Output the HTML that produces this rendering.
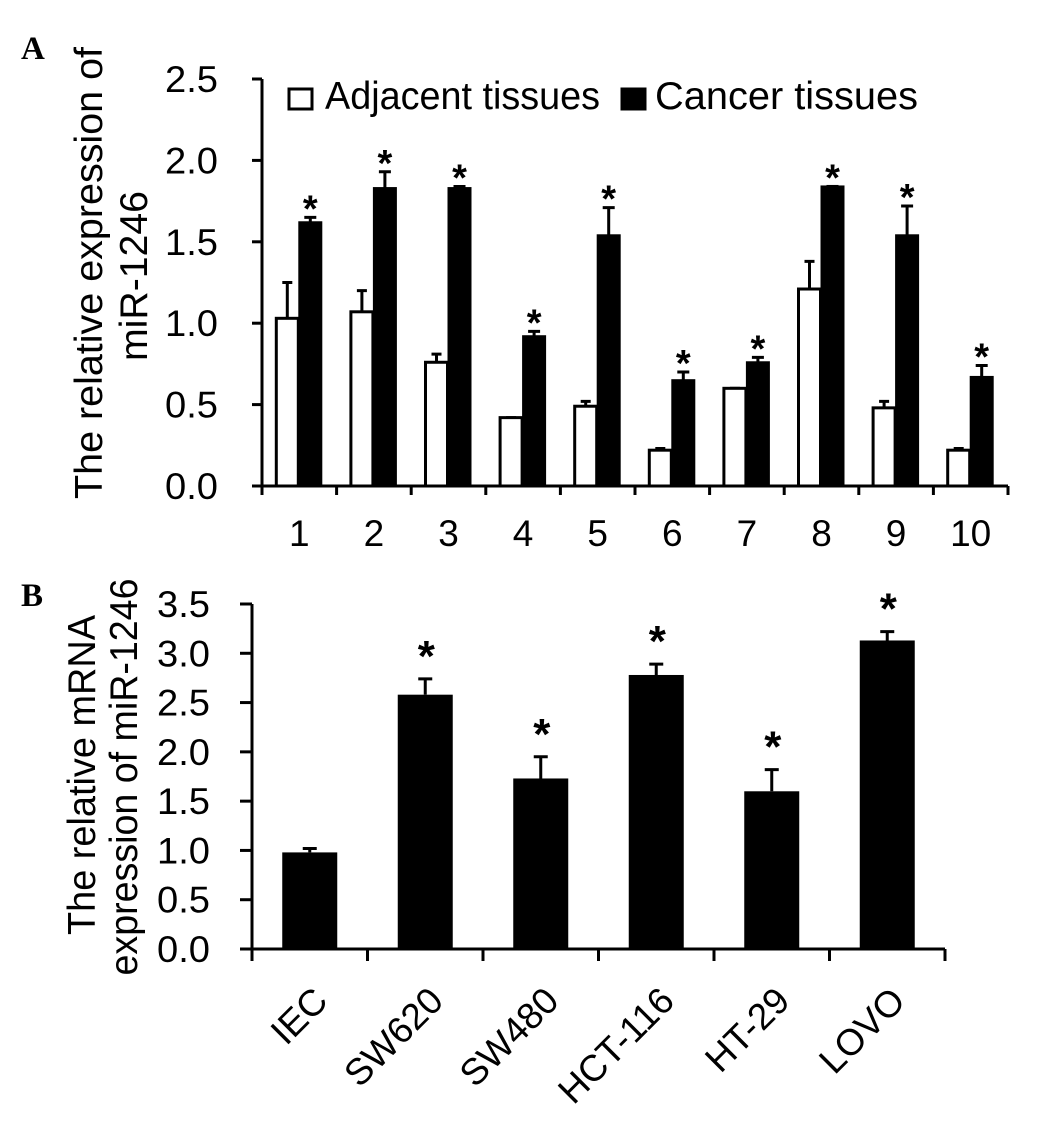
<!DOCTYPE html>
<html><head><meta charset="utf-8"><style>
html,body{margin:0;padding:0;background:#fff;}
svg{display:block;font-family:"Liberation Sans",Arial,sans-serif;}
</style></head><body>
<svg id="fig" width="1050" height="1122" viewBox="0 0 1050 1122">
<text x="21" y="59" font-family="Liberation Serif" font-weight="bold" font-size="33">A</text>
<text x="21" y="606" font-family="Liberation Serif" font-weight="bold" font-size="33">B</text>
<g id="chartA"></g>
<g id="chartB"></g>
<text transform="translate(102,273) rotate(-90)" text-anchor="middle" font-size="39" textLength="452" lengthAdjust="spacingAndGlyphs">The relative expression of</text>
<text transform="translate(147,276) rotate(-90)" text-anchor="middle" font-size="39" textLength="170" lengthAdjust="spacingAndGlyphs">miR-1246</text>
<text transform="translate(95,775) rotate(-90)" text-anchor="middle" font-size="39" textLength="320" lengthAdjust="spacingAndGlyphs">The relative mRNA</text>
<text transform="translate(137,777) rotate(-90)" text-anchor="middle" font-size="39" textLength="397" lengthAdjust="spacingAndGlyphs">expression of miR-1246</text>
<g>
<rect x="289" y="89" width="23" height="20" fill="#fff" stroke="#000" stroke-width="3"/>
<text x="325" y="109" font-size="39" textLength="275" lengthAdjust="spacingAndGlyphs">Adjacent tissues</text>
<rect x="622" y="89" width="23" height="20" fill="#000" stroke="#000" stroke-width="3"/>
<text x="655" y="109" font-size="39" textLength="263" lengthAdjust="spacingAndGlyphs">Cancer tissues</text>
</g>
</svg>
<script>
var catsA = ["1","2","3","4","5","6","7","8","9","10"];
var adjVals = [1.03,1.07,0.76,0.42,0.49,0.22,0.60,1.21,0.48,0.22];
var adjErr = [0.22,0.13,0.05,0.00,0.03,0.01,0.00,0.17,0.04,0.01];
var canVals = [1.62,1.83,1.83,0.92,1.54,0.65,0.76,1.84,1.54,0.67];
var canErr = [0.03,0.10,0.01,0.03,0.17,0.05,0.03,0.00,0.18,0.07];
var ticksA = ["0.0","0.5","1.0","1.5","2.0","2.5"];
var catsB = ["IEC","SW620","SW480","HCT-116","HT-29","LOVO"];
var valsB = [0.98,2.58,1.73,2.78,1.60,3.13];
var errB = [0.04,0.16,0.22,0.11,0.22,0.09];
var ticksB = ["0.0","0.5","1.0","1.5","2.0","2.5","3.0","3.5"];

var NS="http://www.w3.org/2000/svg";
function mk(parent,tag,attrs){var e=document.createElementNS(NS,tag);for(var k in attrs)e.setAttribute(k,attrs[k]);parent.appendChild(e);return e;}

// Panel A
(function(){
var g=document.getElementById('chartA');
var x0=262,y0=486,yTop=79,maxV=2.5;
function y(v){return y0-(v/maxV)*(y0-yTop);}
var step=74.6;
var ax=mk(g,'line',{x1:x0,y1:yTop,x2:x0,y2:y0,stroke:'#000','stroke-width':3});


var bx=mk(g,'line',{x1:x0-10,y1:y0,x2:x0+step*catsA.length,y2:y0,stroke:'#000','stroke-width':3});


ticksA.forEach(function(t){var v=parseFloat(t);var yy=y(v);
var l=mk(g,'line',{x1:x0-10,y1:yy,x2:x0,y2:yy,stroke:'#000','stroke-width':3});


var tx=mk(g,'text',{x:218,y:yy+13,'text-anchor':'end','font-size':37,textLength:53,lengthAdjust:'spacingAndGlyphs'});tx.textContent=t;


});
for(var i=0;i<=catsA.length;i++){var xx=x0+step*i;
var l=mk(g,'line',{x1:xx,y1:y0,x2:xx,y2:y0+9,stroke:'#000','stroke-width':3});

}
catsA.forEach(function(c,i){
var cx=x0+step*i+step/2;
var tx=mk(g,'text',{x:cx,y:546,'text-anchor':'middle','font-size':37});tx.textContent=c;


var w=22;
var ea=mk(g,'path',{d:'M'+(cx-w/2-1)+' '+y(adjVals[i])+'V'+y(adjVals[i]+adjErr[i])+'M'+(cx-w/2-6)+' '+y(adjVals[i]+adjErr[i])+'H'+(cx-w/2+4),stroke:'#000','stroke-width':3,fill:'none'});


var ra=mk(g,'rect',{x:cx-w-1,y:y(adjVals[i]),width:w,height:y0-y(adjVals[i]),fill:'#fff',stroke:'#000','stroke-width':3});


var ec=mk(g,'path',{d:'M'+(cx+w/2)+' '+y(canVals[i])+'V'+y(canVals[i]+canErr[i])+'M'+(cx+w/2-6)+' '+y(canVals[i]+canErr[i])+'H'+(cx+w/2+6),stroke:'#000','stroke-width':3,fill:'none'});


var rc=mk(g,'rect',{x:cx,y:y(canVals[i]),width:w,height:y0-y(canVals[i]),fill:'#000',stroke:'#000','stroke-width':2});


var st=mk(g,'text',{x:cx+w/2,y:y(canVals[i]+canErr[i])+4,'text-anchor':'middle','font-size':38,'font-weight':'bold'});st.textContent='*';


});
})();

// Panel B
(function(){
var g=document.getElementById('chartB');
var x0=252,y0=949,yTop=604,maxV=3.5,step=115.5;
function y(v){return y0-(v/maxV)*(y0-yTop);}
var ax=mk(g,'line',{x1:x0,y1:yTop,x2:x0,y2:y0,stroke:'#000','stroke-width':3});


var bx=mk(g,'line',{x1:x0-12,y1:y0,x2:x0+step*catsB.length,y2:y0,stroke:'#000','stroke-width':3});


ticksB.forEach(function(t){var v=parseFloat(t);var yy=y(v);
var l=mk(g,'line',{x1:x0-12,y1:yy,x2:x0,y2:yy,stroke:'#000','stroke-width':3});


var tx=mk(g,'text',{x:210,y:yy+13,'text-anchor':'end','font-size':37,textLength:53,lengthAdjust:'spacingAndGlyphs'});tx.textContent=t;


});
for(var i=0;i<=catsB.length;i++){var xx=x0+step*i;
var l=mk(g,'line',{x1:xx,y1:y0,x2:xx,y2:y0+12,stroke:'#000','stroke-width':3});

}
catsB.forEach(function(c,i){
var cx=x0+step*i+step/2,w=55;
var tx=mk(g,'text',{transform:'translate('+(cx+20)+',1003) rotate(-45)','text-anchor':'end','font-size':37});tx.textContent=c;


var e=mk(g,'path',{d:'M'+cx+' '+y(valsB[i])+'V'+y(valsB[i]+errB[i])+'M'+(cx-7)+' '+y(valsB[i]+errB[i])+'H'+(cx+7),stroke:'#000','stroke-width':3,fill:'none'});


var r=mk(g,'rect',{x:cx-w/2,y:y(valsB[i]),width:w,height:y0-y(valsB[i]),fill:'#000'});


if(i>0){var st=mk(g,'text',{x:cx+1,y:y(valsB[i]+errB[i])-8,'text-anchor':'middle','font-size':44,'font-weight':'bold'});st.textContent='*';

}
});
})();
</script>
</body></html>
